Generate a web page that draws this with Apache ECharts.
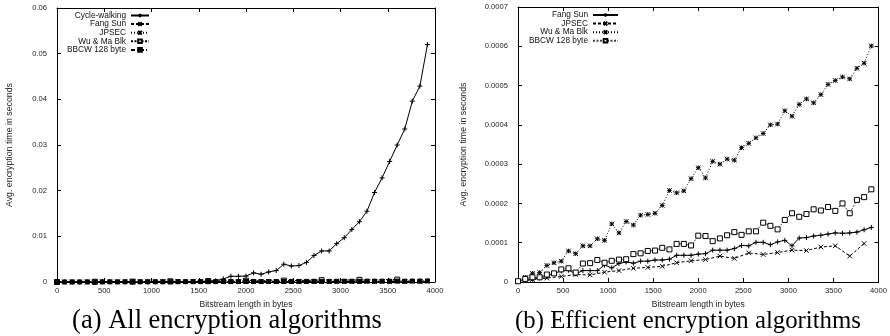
<!DOCTYPE html>
<html><head><meta charset="utf-8">
<script src="https://cdn.jsdelivr.net/npm/echarts@6/dist/echarts.min.js"></script>
<style>html,body{margin:0;padding:0;background:#fff}#c{width:890px;height:336px}</style>
</head><body><div id="c"></div>
<script>
// ---- data (bytes on x, seconds on y) ----
const bytes80 = [0,80,160,240,320,400,480,560,640,720,800,880,960,1040,1120,1200,1280,1360,1440,1520,1600,1680,1760,1840,1920,2000,2080,2160,2240,2320,2400,2480,2560,2640,2720,2800,2880,2960,3040,3120,3200,3280,3360,3440,3520,3600,3680,3760,3840,3920];
const bytes160 = [0,160,320,480,640,800,960,1120,1280,1440,1600,1760,1920,2080,2240,2400,2560,2720,2880,3040,3200,3360,3520,3680,3840];
const bytes400 = [0,400,800,1200,1600,2000,2400,2800,3200,3600];

const cycleWalking = [0.00001,0.00001,0.00001,0.00002,0.00002,0.00002,0.00003,0.00003,0.00003,0.00004,0.00004,0.00004,0.00005,0.00005,0.00006,0.00006,0.00007,0.00008,0.00009,0.0001,0.00015,0.0003,0.00066,0.00125,0.00125,0.0013,0.002,0.0017,0.0022,0.0025,0.0039,0.0035,0.0036,0.0043,0.0058,0.0068,0.0068,0.0084,0.0097,0.0115,0.0132,0.0155,0.0196,0.0228,0.0264,0.03,0.0335,0.0396,0.0429,0.052];
const fangSun = [0.000002,0.000004,0.000007,0.00001,0.000015,0.000022,0.000028,0.00003,0.000021,0.000029,0.000029,0.000029,0.000043,0.000036,0.000047,0.000051,0.000048,0.000053,0.000053,0.000056,0.000056,0.000058,0.000068,0.000068,0.000068,0.000071,0.000072,0.000081,0.000081,0.000081,0.000085,0.000093,0.000092,0.000101,0.000101,0.000095,0.000102,0.000106,0.000092,0.000112,0.000113,0.000117,0.000119,0.000122,0.000125,0.000124,0.000125,0.000127,0.000133,0.000139];
const jpsec = [0.000002,0.000006,0.00001,0.000014,0.000019,0.000018,0.000025,0.000029,0.000035,0.000037,0.00004,0.000049,0.000054,0.000057,0.000066,0.00006,0.000074,0.00007,0.000075,0.000081,0.00008,0.000089,0.000092,0.000066,0.000098];
const wuMa = [0.000003,0.000012,0.000022,0.000024,0.000042,0.000049,0.000053,0.000079,0.000072,0.000092,0.000092,0.00011,0.000106,0.000148,0.000125,0.000154,0.000145,0.00017,0.000172,0.000175,0.000195,0.000233,0.000227,0.000232,0.000263,0.000291,0.000265,0.000307,0.0003,0.000313,0.00031,0.000342,0.000353,0.000367,0.000378,0.0004,0.000402,0.000436,0.000422,0.000452,0.000466,0.000456,0.000477,0.000503,0.000513,0.000522,0.000517,0.000544,0.000557,0.000601];
const wuMaAll = [0.000003,0.00005,0.00009,0.00015,0.0002,0.00029,0.00031,0.0004,0.00047,0.00052];
const bbcw = [0.000002,0.000008,0.000012,0.000012,0.000019,0.000022,0.000032,0.000035,0.000024,0.000047,0.000048,0.000056,0.000049,0.000054,0.000057,0.000058,0.000071,0.000073,0.000079,0.00008,0.000087,0.000083,0.000097,0.000097,0.000093,0.000118,0.000117,0.000104,0.000111,0.000119,0.000127,0.00012,0.000129,0.000129,0.000151,0.000143,0.000134,0.000158,0.000175,0.000166,0.000173,0.000185,0.000182,0.000191,0.000181,0.0002,0.000175,0.000209,0.000216,0.000236];

const namesA = ['Cycle-walking','Fang Sun','JPSEC','Wu & Ma Blk','BBCW 128 byte'];
const namesB = ['Fang Sun','JPSEC','Wu & Ma Blk','BBCW 128 byte'];
const xTitle = 'Bitstream length in bytes';
const yTitle = 'Avg. encryption time in seconds';
const captionA = '(a) All encryption algorithms';
const captionB = '(b) Efficient encryption algorithms';

// ---- build ----
const pairs = (xs, ys) => xs.map((x, i) => [x, ys[i]]);
const SYM = {
  plus: 'path://M0,5L10,5M5,0L5,10',
  cross: 'path://M0,0L10,10M0,10L10,0',
  star: 'path://M0,5L10,5M5,0L5,10M0,0L10,10M0,10L10,0',
  rect: 'rect'
};
function ser(name, data, xi, yi, sym, size, dash, fill, lineColor) {
  return {
    type: 'line', name: name, data: data, xAxisIndex: xi, yAxisIndex: yi,
    symbol: SYM[sym], symbolSize: size, showAllSymbol: true, silent: true,
    lineStyle: { color: lineColor || '#000', width: 1, type: dash },
    itemStyle: { color: fill, borderColor: '#000', borderWidth: 1 },
    emphasis: { disabled: true }
  };
}
const FONT = 'Liberation Sans';
const tc = '#222';
function xAx(gi, pos, show) {
  return {
    type: 'value', gridIndex: gi, position: pos, min: 0, max: 4000, interval: 500,
    axisLine: { show: true, onZero: false, lineStyle: { color: '#000', width: 1 } },
    axisTick: { show: true, inside: true, length: 4, lineStyle: { color: '#000' } },
    axisLabel: { show: show, margin: 5, fontSize: 7.6, color: tc, fontFamily: FONT, formatter: v => String(v) },
    splitLine: { show: false },
    name: show ? xTitle : '', nameLocation: 'middle', nameGap: 18,
    nameTextStyle: { fontSize: 8.5, color: tc, fontFamily: FONT }
  };
}
function yAx(gi, pos, show, max, interval, gap) {
  return {
    type: 'value', gridIndex: gi, position: pos, min: 0, max: max, interval: interval,
    axisLine: { show: true, onZero: false, lineStyle: { color: '#000', width: 1 } },
    axisTick: { show: true, inside: true, length: 4, lineStyle: { color: '#000' } },
    axisLabel: { show: show, margin: 10, fontSize: 7.6, color: tc, fontFamily: FONT },
    splitLine: { show: false },
    name: show ? yTitle : '', nameLocation: 'middle', nameGap: gap, nameRotate: 90,
    nameTextStyle: { fontSize: 8.8, color: tc, fontFamily: FONT }
  };
}

const series = [
  ser('a:' + namesA[0], pairs(bytes80, cycleWalking), 0, 0, 'plus', 5, 'solid', '#000'),
  ser('a:' + namesA[1], pairs(bytes80, fangSun), 0, 0, 'cross', 4.5, [3, 2], '#000'),
  ser('a:' + namesA[2], pairs(bytes160, jpsec), 0, 0, 'star', 4.5, [1, 2], '#000'),
  ser('a:' + namesA[3], pairs(bytes400, wuMaAll), 0, 0, 'rect', 5, [2, 1.5], '#fff'),
  ser('a:' + namesA[4], pairs(bytes80, bbcw), 0, 0, 'rect', 4, [4, 2, 1, 2], '#000'),
  ser('b:' + namesB[0], pairs(bytes80, fangSun), 2, 2, 'plus', 5, 'solid', '#000'),
  ser('b:' + namesB[1], pairs(bytes160, jpsec), 2, 2, 'cross', 4.5, [3, 2], '#000'),
  ser('b:' + namesB[2], pairs(bytes80, wuMa), 2, 2, 'star', 4.5, [1, 2], '#000'),
  ser('b:' + namesB[3], pairs(bytes80, bbcw), 2, 2, 'rect', 5, [2, 1.5], '#fff', '#444')
];

const legendBase = {
  orient: 'vertical', align: 'right', padding: 0, itemGap: 0.6, itemHeight: 4.5,
  selectedMode: false,
  formatter: n => n.slice(2),
  textStyle: { fontSize: 8.3, color: '#111', fontFamily: FONT }
};

const option = {
  animation: false,
  grid: [
    { left: 57, right: 455, top: 8, bottom: 54 },
    { left: 518, right: 4, top: 7, bottom: 54 }
  ],
  xAxis: [xAx(0, 'bottom', true), xAx(0, 'top', false), xAx(1, 'bottom', true), xAx(1, 'top', false)],
  yAxis: [
    yAx(0, 'left', true, 0.06, 0.01, 43), yAx(0, 'right', false, 0.06, 0.01, 0),
    yAx(1, 'left', true, 0.0007, 0.0001, 50), yAx(1, 'right', false, 0.0007, 0.0001, 0)
  ],
  legend: [
    Object.assign({}, legendBase, { right: 740, top: 11.5, itemWidth: 18, data: namesA.map(n => 'a:' + n) }),
    Object.assign({}, legendBase, { right: 271, top: 11, itemWidth: 25, data: namesB.map(n => 'b:' + n) })
  ],
  graphic: [
    { type: 'text', x: 227, y: 321, style: { text: captionA, font: '26.5px "Liberation Serif"', fill: '#000', align: 'center', verticalAlign: 'middle', textAlign: 'center', textVerticalAlign: 'middle' } },
    { type: 'text', x: 688, y: 321, style: { text: captionB, font: '24.8px "Liberation Serif"', fill: '#000', align: 'center', verticalAlign: 'middle', textAlign: 'center', textVerticalAlign: 'middle' } }
  ],
  series: series
};
const chart = echarts.init(document.getElementById('c'), null, { renderer: 'canvas' });
chart.setOption(option);
</script>
</body></html>
